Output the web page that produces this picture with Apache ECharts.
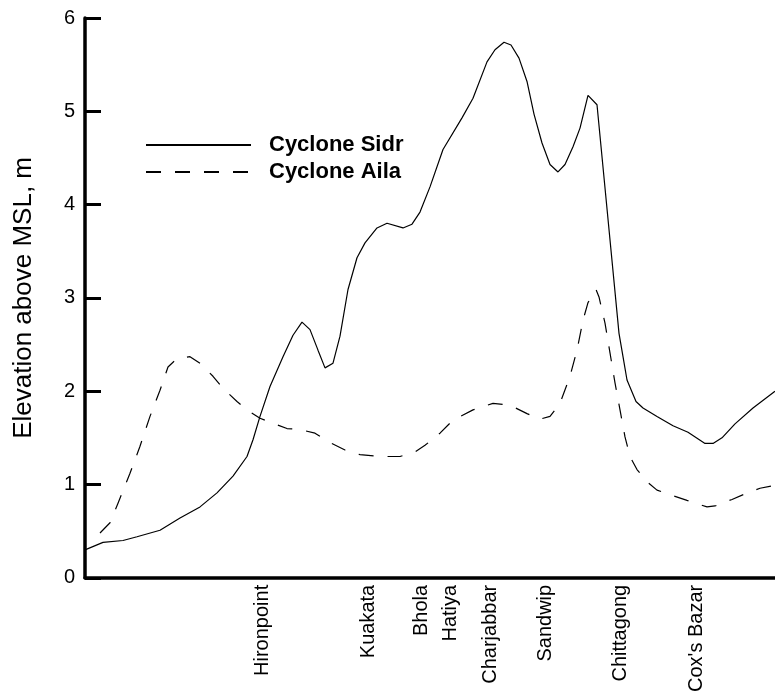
<!DOCTYPE html>
<html>
<head>
<meta charset="utf-8">
<script src="https://cdn.jsdelivr.net/npm/echarts/dist/echarts.min.js"></script>
<style>
html,body{margin:0;padding:0;background:#fff;}
#chart{width:775px;height:695px;}
</style>
</head>
<body>
<div id="chart"></div>
<script>
// Distance along the coast (relative units) and surge elevation (m above MSL)
var sidrX = [0,18,38,52,75,95,115,132,148,162,168,175,185,198,208,217,225,233,240,248,255,263,272,280,292,302,318,327,335,345,358,377,388,402,410,419,426,434,442,449,457,465,473,480,488,495,503,512,534,538,542,551,558,572,588,603,620,628,637,650,668,690];
var sidrY = [0.30,0.38,0.40,0.44,0.51,0.64,0.76,0.91,1.09,1.30,1.48,1.73,2.05,2.37,2.60,2.74,2.66,2.44,2.25,2.30,2.59,3.09,3.43,3.59,3.75,3.80,3.75,3.79,3.92,4.19,4.59,4.93,5.14,5.53,5.66,5.74,5.71,5.57,5.32,4.97,4.66,4.43,4.35,4.43,4.62,4.82,5.17,5.07,2.62,2.37,2.12,1.89,1.82,1.73,1.63,1.56,1.44,1.44,1.50,1.65,1.82,2.00];
var ailaX = [15,25,33,45,55,65,75,83,92,105,115,128,138,152,162,175,187,202,215,230,245,260,275,295,315,330,340,355,368,388,408,425,442,455,465,475,485,492,498,503,511,514,520,525,530,535,540,545,552,562,572,588,602,622,630,647,660,675,690];
var ailaY = [0.48,0.59,0.80,1.12,1.41,1.73,2.01,2.26,2.35,2.37,2.30,2.16,2.03,1.89,1.80,1.71,1.66,1.60,1.59,1.55,1.45,1.37,1.32,1.30,1.30,1.35,1.42,1.55,1.69,1.80,1.87,1.85,1.76,1.70,1.73,1.87,2.16,2.44,2.76,2.95,3.09,3.01,2.73,2.41,2.09,1.80,1.51,1.30,1.16,1.03,0.94,0.88,0.83,0.76,0.77,0.84,0.90,0.96,0.99];
var stationNames = ['Hironpoint','Kuakata','Bhola','Hatiya','Charjabbar','Sandwip','Chittagong',"Cox's Bazar"];
var stationX = [177,283,336,365,405,460,535,611];
var seriesNames = ['Cyclone Sidr','Cyclone Aila'];

function zip(xs, ys){ return xs.map(function(x,i){ return [x, ys[i]]; }); }

var FONT = '"Liberation Sans", Arial, sans-serif';
var chart = echarts.init(document.getElementById('chart'));
chart.setOption({
  animation: false,
  backgroundColor: '#fff',
  grid: {left: 85, right: 0, top: 18, bottom: 116, containLabel: false},
  legend: {
    data: seriesNames,
    orient: 'vertical',
    left: 145, top: 134,
    padding: 0,
    itemWidth: 105, itemHeight: 22, itemGap: 5,
    itemStyle: {opacity: 0},
    textStyle: {fontSize: 22, fontWeight: 'bold', color: '#000', fontFamily: FONT, padding: [0,0,0,13]}
  },
  xAxis: {
    type: 'value', min: 0, max: 690,
    axisLine: {show: true, lineStyle: {color: '#000', width: 3.5}},
    axisTick: {show: false},
    splitLine: {show: false},
    axisLabel: {
      customValues: stationX,
      rotate: 90, margin: 7,
      fontSize: 20, color: '#000', fontFamily: FONT,
      formatter: function(v){ var i = stationX.indexOf(v); return i >= 0 ? stationNames[i] : ''; }
    }
  },
  yAxis: {
    type: 'value', min: 0, max: 6, interval: 1,
    name: 'Elevation above MSL, m', nameLocation: 'middle', nameGap: 48,
    nameTextStyle: {fontSize: 26, color: '#000', fontFamily: FONT},
    axisLine: {show: true, lineStyle: {color: '#000', width: 3.5}},
    axisTick: {show: true, inside: true, length: 16, lineStyle: {color: '#000', width: 3}},
    splitLine: {show: false},
    axisLabel: {fontSize: 20, color: '#000', margin: 10, fontFamily: FONT}
  },
  series: [
    {name: seriesNames[0], type: 'line', symbol: 'none', data: zip(sidrX, sidrY),
     lineStyle: {color: '#000', width: 1.2, type: 'solid'}, itemStyle: {color: '#000'}},
    {name: seriesNames[1], type: 'line', symbol: 'none', data: zip(ailaX, ailaY),
     lineStyle: {color: '#000', width: 1.2, type: [15, 14]}, itemStyle: {color: '#000'}}
  ]
});
</script>
</body>
</html>
